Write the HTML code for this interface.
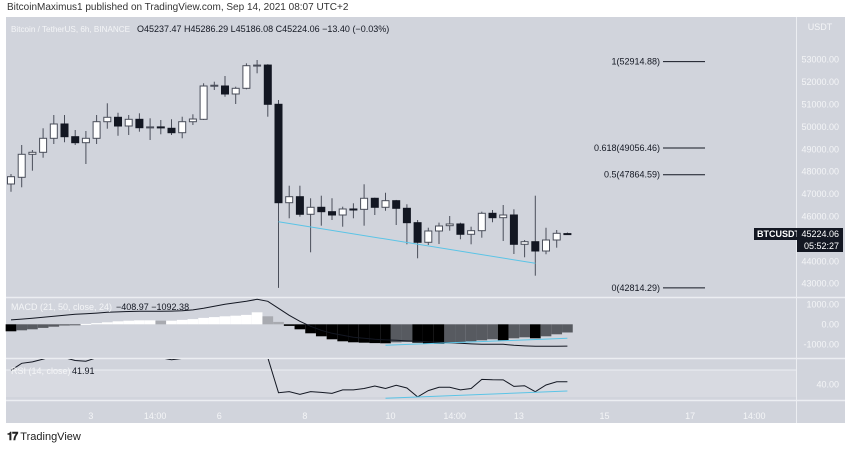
<!DOCTYPE html>
<html><head><meta charset="utf-8">
<style>
body{margin:0;width:850px;height:450px;background:#fff;overflow:hidden;font-family:"Liberation Sans",sans-serif}
#hdr{position:absolute;left:7px;top:2px;font-size:10px;color:#333}
#foot{position:absolute;left:7px;top:431px;font-size:11px;color:#222;font-weight:bold}
svg{position:absolute;left:0;top:0}
</style></head><body>
<div id="hdr">BitcoinMaximus1 published on TradingView.com, Sep 14, 2021 08:07 UTC+2</div>
<div id="foot"><span style="letter-spacing:-1px">𝟏𝟕</span> <span style="font-weight:normal">TradingView</span></div>
<svg id="c" width="850" height="450"></svg>
<script>
const opens=[47451,47750,48777,48866,49491,50130,49563,49295,49491,50232,50429,50040,50339,49964,50000,49938,49741,50232,50339,51826,51826,51469,51723,52732,52760,51009,46616,46884,46099,46411,46215,46067,46335,46320,46813,46411,46706,46366,45724,44849,45353,45590,45666,45206,45367,46143,45947,46067,44759,44875,44460,44951,45237];
const highs=[47898,49192,48969,49938,50531,50531,49862,49817,50531,51054,50634,50531,50607,50384,50308,50339,50455,50563,51947,52018,52272,51795,52839,52987,52800,51201,47375,47375,46813,46929,46813,46438,46590,47438,46840,47063,46740,46545,45844,45500,45724,46023,45724,45545,46215,46291,46514,46322,44951,46929,45500,45398,45286];
const lows=[47107,47304,48045,48625,49237,49313,49192,48344,49237,49920,49607,49639,49786,49415,49670,49639,49491,50085,50308,51647,51348,51022,51679,52393,50455,42814,45920,45992,44402,45590,45844,45545,45920,45590,46067,46259,45621,44759,44134,44728,44773,45367,44983,44759,45054,45742,44907,44326,44179,43358,44313,44608,45186];
const closes=[47777,48777,48866,49491,50130,49563,49295,49491,50232,50429,50040,50339,49964,50000,49980,49741,50232,50352,51826,51860,51469,51723,52732,52760,51009,46616,46884,46099,46411,46215,46067,46335,46320,46813,46411,46706,46366,45724,44849,45353,45576,45666,45206,45367,46143,45947,46067,44759,44875,44460,44951,45250,45224];
const macdHist=[-350,-300,-250,-180,-120,-60,-20,20,60,100,150,180,200,200,180,180,220,260,320,360,400,430,470,600,400,120,-80,-250,-450,-600,-750,-850,-900,-920,-940,-950,-900,-880,-920,-960,-980,-950,-900,-850,-800,-750,-800,-700,-650,-700,-600,-500,-409];
const macdLine=[220,260,300,350,400,450,500,530,560,600,620,640,650,650,650,660,680,720,800,900,1000,1080,1150,1250,1150,800,450,150,-100,-300,-450,-550,-650,-700,-750,-780,-800,-830,-850,-880,-900,-920,-950,-980,-1000,-1000,-1000,-1050,-1080,-1100,-1100,-1100,-1092];
const rsi=[60,70,72,76,80,78,74,73,78,82,80,80,80,79,78,75,77,78,85,86,84,84,88,89,78,28,29.5,25.6,29.5,28.4,27,32,32,34,37.6,34,38.6,34.7,22,31,35.7,35.7,32,34,47,46.5,46.4,37,38,29.4,39,43.7,43.7];
const priceTicks=[43000,44000,45000,46000,47000,48000,49000,50000,51000,52000,53000];
const fibLevels=["1","0.618","0.5","0"];
const fibPrices=[52914.88,49056.46,47864.59,42814.29];
const timeLabels=["3","14:00","6","8","10","14:00","13","15","17","14:00"];
const timeIdx=[7,13,19,27,35,41,47,55,63,69];

const NS="http://www.w3.org/2000/svg",svg=document.getElementById('c');
function el(t,a,txt){const e=document.createElementNS(NS,t);for(const k in a)e.setAttribute(k,a[k]);if(txt!==undefined)e.textContent=txt;svg.appendChild(e);return e;}
const X=i=>11+i*10.7;
const Y=p=>59.7+(53000-p)*0.0224;
const MY=v=>324.3-v*0.02;
const RY=v=>384.3-(v-40)*0.7;
const FONT='"Liberation Sans",sans-serif';

let b;
b=el('rect',{x:6,y:17,width:839,height:406,fill:'#d1d4dc'});


b=el('rect',{x:6,y:370,width:790,height:27,fill:'#d8dae1'});


el('line',{x1:6,y1:370,x2:796,y2:370,stroke:'#eceef2','stroke-width':1});
[297.5,358.5,400.5].forEach(y=>{const l=el('line',{x1:6,y1:y,x2:845,y2:y,stroke:'#eceef2','stroke-width':1.5});});
b=el('line',{x1:796.5,y1:17,x2:796.5,y2:423,stroke:'#eceef2','stroke-width':1});



priceTicks.forEach(p=>{const t=el('text',{x:839,y:Y(p)+3,'font-size':9,fill:'#f4f5f7','text-anchor':'end','font-family':FONT},p.toFixed(2));});
b=el('text',{x:820,y:30,'font-size':9,fill:'#f4f5f7','text-anchor':'middle','font-family':FONT},'USDT');


[[1000,'1000.00'],[0,'0.00'],[-1000,'-1000.00']].forEach(a=>{const t=el('text',{x:839,y:MY(a[0])+3,'font-size':9,fill:'#f4f5f7','text-anchor':'end','font-family':FONT},a[1]);});
b=el('text',{x:839,y:RY(40)+3,'font-size':9,fill:'#f4f5f7','text-anchor':'end','font-family':FONT},'40.00');



timeLabels.forEach((s,k)=>{const t=el('text',{x:X(timeIdx[k])+5,y:419,'font-size':9,fill:'#f4f5f7','text-anchor':'middle','font-family':FONT},s);});

opens.forEach((o,i)=>{
 const c=closes[i],x=X(i),up=c>=o;
 const w=el('line',{x1:x,y1:Y(highs[i]),x2:x,y2:Y(lows[i]),stroke:'#4a4e5a','stroke-width':1});
 
 
 const top=Y(Math.max(o,c)),h=Math.max(1,Y(Math.min(o,c))-top);
 const r=el('rect',{x:x-3.5,y:top,width:7,height:h,fill:up?'#ffffff':'#131722',stroke:up?'#4a4e5a':'#131722','stroke-width':1});
 
 
});
b=el('line',{x1:X(25),y1:Y(45768),x2:X(49),y2:Y(43911),stroke:'#5bc4e6','stroke-width':1});



fibLevels.forEach((lv,k)=>{
 const y=Y(fibPrices[k]);
 const l=el('line',{x1:663,y1:y,x2:705,y2:y,stroke:'#131722','stroke-width':1});
 
 
 const t=el('text',{x:660,y:y+3,'font-size':9,fill:'#131722','text-anchor':'end','font-family':FONT},lv+'('+fibPrices[k].toFixed(2)+')');
 
 
});

macdHist.forEach((v,i)=>{
 const prev=i?macdHist[i-1]:v;
 let col;
 if(v>=0) col=v>=prev?'#ffffff':'#a8aab0'; else col=v<=prev?'#000000':'#575a60';
 const y1=MY(Math.max(v,0)),y2=MY(Math.min(v,0));
 const r=el('rect',{x:X(i)-5.35,y:y1,width:10.7,height:Math.max(1,y2-y1),fill:col});
 
 
});
b=el('polyline',{points:macdLine.map((v,i)=>X(i)+','+MY(v)).join(' '),fill:'none',stroke:'#131722','stroke-width':1});


b=el('line',{x1:X(35),y1:MY(-1050),x2:X(52),y2:MY(-700),stroke:'#5bc4e6','stroke-width':1});



const cp=el('clipPath',{id:'rc'});
const cr=document.createElementNS(NS,'rect');cr.setAttribute('x',6);cr.setAttribute('y',359);cr.setAttribute('width',790);cr.setAttribute('height',40);cp.appendChild(cr);
b=el('polyline',{points:rsi.map((v,i)=>X(i)+','+RY(v)).join(' '),fill:'none',stroke:'#131722','stroke-width':1,'clip-path':'url(#rc)'});


b=el('line',{x1:X(35),y1:398.3,x2:X(52),y2:391,stroke:'#5bc4e6','stroke-width':1});



b=el('text',{x:11,y:32,'font-size':8.5,fill:'#f4f5f7','font-family':FONT,textLength:119,lengthAdjust:'spacingAndGlyphs'},'Bitcoin / TetherUS, 6h, BINANCE');


b=el('text',{x:137,y:32,'font-size':9,fill:'#131722','font-family':FONT},'O45237.47  H45286.29  L45186.08  C45224.06  −13.40 (−0.03%)');


b=el('text',{x:11,y:310,'font-size':9,fill:'#f4f5f7','font-family':FONT},'MACD (21, 50, close, 24)');


b=el('text',{x:116,y:310,'font-size':9,fill:'#131722','font-family':FONT},'−408.97  −1092.38');


b=el('text',{x:11,y:374,'font-size':9,fill:'#f4f5f7','font-family':FONT},'RSI (14, close)');


b=el('text',{x:72,y:374,'font-size':9,fill:'#131722','font-family':FONT},'41.91');



b=el('rect',{x:754,y:228,width:43,height:12,fill:'#131722'});


el('text',{x:757,y:237,'font-size':9,fill:'#fff','font-family':FONT,'font-weight':'bold'},'BTCUSDT');
b=el('rect',{x:797,y:228,width:46,height:24,fill:'#131722'});


el('text',{x:839,y:237,'font-size':9,fill:'#fff','text-anchor':'end','font-family':FONT},'45224.06');
el('text',{x:839,y:249,'font-size':9,fill:'#fff','text-anchor':'end','font-family':FONT},'05:52:27');
</script>
</body></html>
